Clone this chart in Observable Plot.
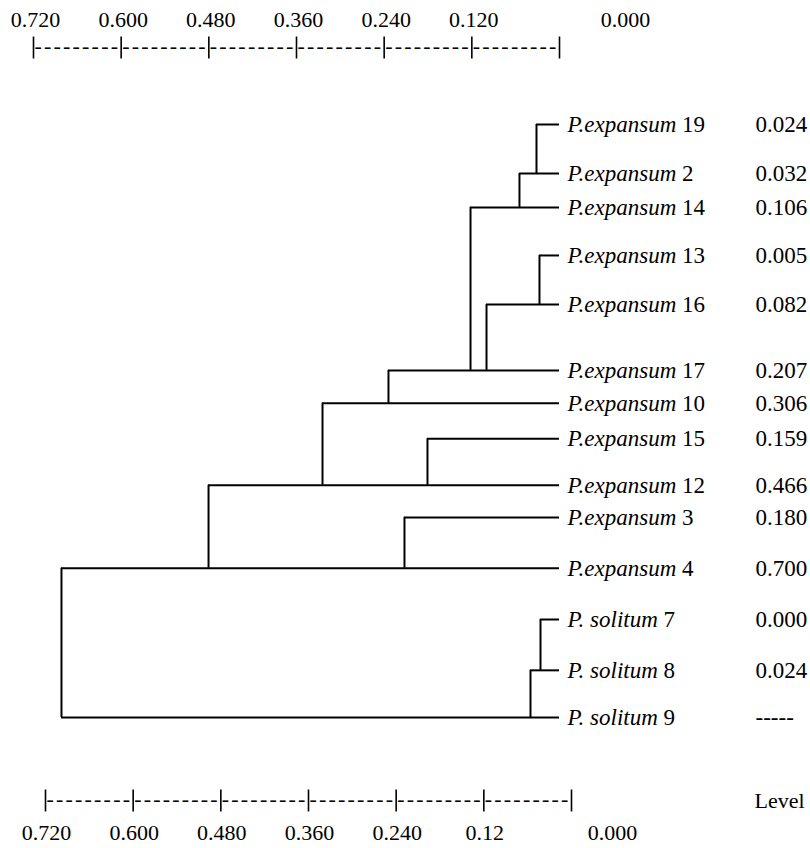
<!DOCTYPE html>
<html><head><meta charset="utf-8">
<script src="https://cdn.jsdelivr.net/npm/d3@7"></script>
<script src="https://cdn.jsdelivr.net/npm/@observablehq/plot@0.6"></script>
<style>
body{margin:0;background:#fff}
svg{display:block;background:#fff}
</style>
</head><body><div id="chart"></div>
<script>
// Leaves, in drawing order (top to bottom)
const leafNames = ["P.expansum 19","P.expansum 2","P.expansum 14","P.expansum 13","P.expansum 16","P.expansum 17","P.expansum 10","P.expansum 15","P.expansum 12","P.expansum 3","P.expansum 4","P. solitum 7","P. solitum 8","P. solitum 9"];
// vertical row position of each leaf (row units)
const leafRow = [0, 1.07, 1.81, 2.86, 3.93, 5.37, 6.09, 6.86, 7.88, 8.58, 9.69, 10.81, 11.92, 12.95];
// level at which each leaf's branch joins
const leafLevel = [0.0315, 0.0548, 0.1218, 0.0274, 0.0999, 0.2341, 0.3244, 0.1807, 0.4804, 0.2122, 0.6817, 0.026, 0.0397, 0.6817];
// leaf whose line the joining vertical reaches
const leafTarget = ["P.expansum 2","P.expansum 14","P.expansum 17","P.expansum 16","P.expansum 17","P.expansum 10","P.expansum 12","P.expansum 12","P.expansum 4","P.expansum 4","P. solitum 9","P. solitum 8","P. solitum 9",null];
// printed distance values
const leafDist = ["0.024","0.032","0.106","0.005","0.082","0.207","0.306","0.159","0.466","0.180","0.700","0.000","0.024","-----"];

const tickValues = [0.72, 0.60, 0.48, 0.36, 0.24, 0.12, 0];
const topTickLabels = ["0.720","0.600","0.480","0.360","0.240","0.120","0.000"];
const bottomTickLabels = ["0.720","0.600","0.480","0.360","0.240","0.12","0.000"];
const axisTitle = "Level";
const dashText = "---------";

const leaves = leafNames.map((name, i) => ({name, row: leafRow[i], level: leafLevel[i], target: leafTarget[i], dist: leafDist[i]}));
const rowOf = Object.fromEntries(leaves.map(d => [d.name, d.row]));
const verticals = leaves.filter(d => d.target).map(d => ({level: d.level, y1: d.row, y2: rowOf[d.target]}));
const intervals = tickValues.slice(0, -1).map((v, i) => ({mid: (v + tickValues[i + 1]) / 2}));
const ticks = tickValues.map((v, i) => ({v, top: topTickLabels[i], bottom: bottomTickLabels[i]}));

// a vertical bar symbol for the "|" tick marks
const pipeSymbol = {draw(ctx, size) { const h = Math.sqrt(size / Math.PI); ctx.moveTo(0, -h); ctx.lineTo(0, h); }};

const font = "'Liberation Serif', 'Times New Roman', serif";
const fs = 22;
const T = {fontSize: fs, fontFamily: font, fill: "#000", lineAnchor: "middle"};

const chart = Plot.plot({
  width: 810,
  height: 848,
  marginTop: 0, marginBottom: 0, marginLeft: 0, marginRight: 0,
  x: {domain: [0.72, 0], range: [33, 559], axis: null},
  y: {domain: [0, 12.95], range: [124, 717], axis: null},
  marks: [
    Plot.ruleY(leaves, {y: "row", x1: "level", x2: 0, stroke: "#000", strokeWidth: 2}),
    Plot.ruleX(verticals, {x: "level", y1: "y1", y2: "y2", stroke: "#000", strokeWidth: 2}),
    Plot.text(leaves, {x: 0, y: "row", text: "name", textAnchor: "start", dx: 8, ...T, fontSize: 23}),
    Plot.text(leaves, {x: 0, y: "row", text: "dist", textAnchor: "start", dx: 196, ...T, fontSize: 23}),
    // top axis
    Plot.text(ticks.slice(0, 6), {x: "v", text: "top", frameAnchor: "top", dy: 19, dx: 2, ...T}),
    Plot.text(ticks.slice(6), {x: "v", text: "top", frameAnchor: "top", dy: 19, dx: 66, ...T}),
    Plot.dot(ticks, {x: "v", frameAnchor: "top", dy: 47, symbol: pipeSymbol, r: 11, stroke: "#000", strokeWidth: 1.6, fill: "none"}),
    Plot.text(intervals, {x: "mid", text: () => dashText, frameAnchor: "top", dy: 45, ...T}),
    // bottom axis
    Plot.text(ticks.slice(0, 6), {x: "v", text: "bottom", frameAnchor: "bottom", dy: -16, dx: 13, ...T}),
    Plot.text(ticks.slice(6), {x: "v", text: "bottom", frameAnchor: "bottom", dy: -16, dx: 53, ...T}),
    Plot.dot(ticks, {x: "v", frameAnchor: "bottom", dy: -48, dx: 12, symbol: pipeSymbol, r: 11, stroke: "#000", strokeWidth: 1.6, fill: "none"}),
    Plot.text(intervals, {x: "mid", text: () => dashText, frameAnchor: "bottom", dy: -50, dx: 12, ...T}),
    Plot.text([axisTitle], {x: 0, text: d => d, frameAnchor: "bottom", dy: -48, dx: 220, ...T})
  ]
});

// serif font inline on every text; italicise the species part of each leaf label; space out the dash runs
d3.select(chart).selectAll("text").each(function() {
  const sel = d3.select(this);
  sel.style("font-family", font);
  const t = this.textContent;
  if (/^P\./.test(t)) {
    const k = t.lastIndexOf(" ");
    sel.text(null);
    sel.append("tspan").style("font-style", "italic").style("font-family", font).text(t.slice(0, k));
    sel.append("tspan").style("font-family", font).text(t.slice(k));
  } else if (t === dashText) {
    sel.style("letter-spacing", "2.2px");
  }
});

document.getElementById("chart").appendChild(chart);
</script>
</body></html>
